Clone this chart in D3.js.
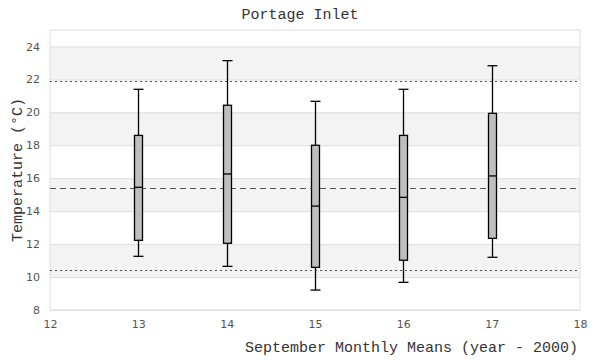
<!DOCTYPE html>
<html>
<head>
<meta charset="utf-8">
<script src="https://cdn.jsdelivr.net/npm/d3@7"></script>
<style>
  body { margin: 0; background: #fff; }
  svg { display: block; }
</style>
</head>
<body>
<script>
const w = 600;
const h = 360;
const margin = { top: 30, right: 20, bottom: 50, left: 50 };

// data
const years = [13, 14, 15, 16, 17];
const whiskerLow = [11.26, 10.65, 9.21, 9.68, 11.2];
const boxLow = [12.23, 12.05, 10.59, 11.02, 12.35];
const medians = [15.45, 16.26, 14.31, 14.84, 16.14];
const boxHigh = [18.6, 20.43, 18.0, 18.6, 19.94];
const whiskerHigh = [21.4, 23.14, 20.67, 21.4, 22.83];
const meanLine = 15.41;
const limitLines = [21.9, 10.43];
const xTicks = [12, 13, 14, 15, 16, 17, 18];
const yTicks = [8, 10, 12, 14, 16, 18, 20, 22, 24];

const mono = "'Liberation Mono', monospace";
const sans = "'DejaVu Sans', sans-serif";

const svg = d3
  .select("body")
  .append("svg")
  .attr("width", w)
  .attr("height", h);

const xScale = d3
  .scaleLinear()
  .domain([12, 18])
  .range([margin.left, w - margin.right]);
const yScale = d3
  .scaleLinear()
  .domain([8, 25])
  .range([h - margin.bottom, margin.top]);

// grey bands
const bands = [10, 14, 18, 22];
svg
  .selectAll("rect.band")
  .data(bands)
  .enter()
  .append("rect")
  .attr("class", "band")
  .attr("x", xScale(12))
  .attr("width", xScale(18) - xScale(12))
  .attr("y", d => yScale(d + 2))
  .attr("height", d => yScale(d) - yScale(d + 2))
  .attr("fill", "#f3f3f3");

// grid lines
svg
  .append("g")
  .attr("transform", "translate(" + margin.left + ",0)")
  .call(
    d3.axisLeft(yScale)
      .tickValues(yTicks)
      .tickSize(-(w - margin.left - margin.right))
      .tickFormat("")
  )
  .call(g => g.select(".domain").remove())
  .call(g => g.selectAll("line").attr("stroke", "#dddddd"));

// plot border
svg
  .append("rect")
  .attr("x", xScale(12))
  .attr("y", yScale(25))
  .attr("width", xScale(18) - xScale(12))
  .attr("height", yScale(8) - yScale(25))
  .attr("fill", "none")
  .attr("stroke", "#dddddd");

// tick labels
const yAxis = svg
  .append("g")
  .attr("transform", "translate(" + margin.left + ",0)")
  .call(d3.axisLeft(yScale).tickValues(yTicks).tickSize(0).tickPadding(10));
const xAxis = svg
  .append("g")
  .attr("transform", "translate(0," + (h - margin.bottom) + ")")
  .call(
    d3.axisBottom(xScale)
      .tickValues(xTicks)
      .tickFormat(d3.format("d"))
      .tickSize(0)
      .tickPadding(10)
  );
[xAxis, yAxis].forEach(a => {
  a.select(".domain").remove();
  a.selectAll("text")
    .style("font-family", sans)
    .style("font-size", "11px")
    .attr("fill", "#555");
});

// reference lines
svg
  .selectAll("line.limit")
  .data(limitLines)
  .enter()
  .append("line")
  .attr("class", "limit")
  .attr("x1", xScale(12))
  .attr("x2", xScale(18))
  .attr("y1", d => Math.round(yScale(d)) + 0.5)
  .attr("y2", d => Math.round(yScale(d)) + 0.5)
  .attr("stroke", "#555")
  .attr("stroke-dasharray", "2,3");
svg
  .append("line")
  .attr("x1", xScale(12))
  .attr("x2", xScale(18))
  .attr("y1", Math.round(yScale(meanLine)) + 0.5)
  .attr("y2", Math.round(yScale(meanLine)) + 0.5)
  .attr("stroke", "#555")
  .attr("stroke-dasharray", "6,4");

// box plots
const boxW = 8;
const capW = 10;
const boxes = svg
  .selectAll("g.box")
  .data(years)
  .enter()
  .append("g")
  .attr("class", "box");

boxes
  .append("line")
  .attr("x1", d => Math.round(xScale(d)) + 0.5)
  .attr("x2", d => Math.round(xScale(d)) + 0.5)
  .attr("y1", (d, i) => yScale(whiskerLow[i]))
  .attr("y2", (d, i) => yScale(whiskerHigh[i]))
  .attr("stroke", "#000")
  .attr("stroke-width", 1.3);

[whiskerLow, whiskerHigh].forEach(arr => {
  boxes
    .append("line")
    .attr("x1", d => Math.round(xScale(d)) + 0.5 - capW / 2)
    .attr("x2", d => Math.round(xScale(d)) + 0.5 + capW / 2)
    .attr("y1", (d, i) => yScale(arr[i]))
    .attr("y2", (d, i) => yScale(arr[i]))
    .attr("stroke", "#000")
    .attr("stroke-width", 1.3);
});

boxes
  .append("rect")
  .attr("x", d => Math.round(xScale(d)) + 0.5 - boxW / 2)
  .attr("width", boxW)
  .attr("y", (d, i) => yScale(boxHigh[i]))
  .attr("height", (d, i) => yScale(boxLow[i]) - yScale(boxHigh[i]))
  .attr("fill", "#bebebe")
  .attr("stroke", "#000")
  .attr("stroke-width", 1.3);

boxes
  .append("line")
  .attr("x1", d => Math.round(xScale(d)) + 0.5 - boxW / 2)
  .attr("x2", d => Math.round(xScale(d)) + 0.5 + boxW / 2)
  .attr("y1", (d, i) => yScale(medians[i]))
  .attr("y2", (d, i) => yScale(medians[i]))
  .attr("stroke", "#000")
  .attr("stroke-width", 1.3);

// title
svg
  .append("text")
  .attr("x", w / 2)
  .attr("y", 19)
  .style("text-anchor", "middle")
  .style("font-family", mono)
  .style("font-size", "15px")
  .attr("fill", "#333")
  .text("Portage Inlet");

// x label
svg
  .append("text")
  .attr("x", w - margin.right - 2)
  .attr("y", 352)
  .style("text-anchor", "end")
  .style("font-family", mono)
  .style("font-size", "15px")
  .attr("fill", "#333")
  .text("September Monthly Means (year - 2000)");

// y label
const yl = (margin.top + h - margin.bottom) / 2;
svg
  .append("text")
  .attr("x", 22)
  .attr("y", yl)
  .attr("transform", "rotate(-90,22," + yl + ")")
  .style("text-anchor", "middle")
  .style("font-family", mono)
  .style("font-size", "15px")
  .attr("fill", "#333")
  .text("Temperature (°C)");
</script>
</body>
</html>
